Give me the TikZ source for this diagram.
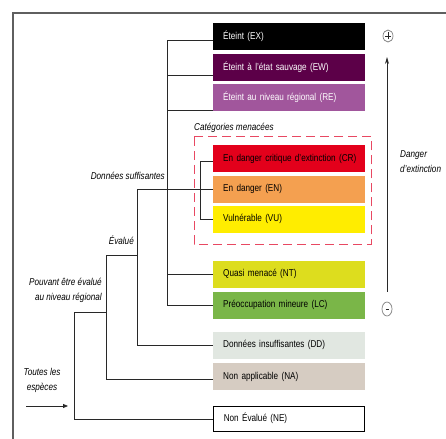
\documentclass[tikz,border=0pt]{standalone}
\usepackage{fontspec}
\setmainfont[FakeStretch=0.82]{Liberation Sans}
\usetikzlibrary{arrows.meta,shapes.geometric}

\definecolor{cEX}{RGB}{0,0,0}
\definecolor{cEW}{RGB}{92,0,72}
\definecolor{cRE}{RGB}{161,86,156}
\definecolor{cCR}{RGB}{227,0,27}
\definecolor{cEN}{RGB}{244,160,80}
\definecolor{cVU}{RGB}{255,237,0}
\definecolor{cNT}{RGB}{221,221,30}
\definecolor{cLC}{RGB}{122,182,72}
\definecolor{cDD}{RGB}{225,231,225}
\definecolor{cNA}{RGB}{214,204,194}
\definecolor{cDash}{RGB}{232,72,98}
\definecolor{cFrame}{RGB}{95,95,95}
\definecolor{cTree}{RGB}{40,40,40}

\begin{document}
\begin{tikzpicture}[x=1bp,y=-1bp,
  catbox/.style={rectangle, anchor=west, minimum width=152bp, minimum height=27bp,
    text width=152bp, inner xsep=0pt, inner ysep=0pt, align=left,
    execute at begin node={\hspace*{10bp}},
    font=\fontsize{10}{12}\selectfont},
  lightbox/.style={catbox, text=white},
  branch/.style={draw=cTree, line width=0.8bp},
  lbl/.style={font=\fontsize{10}{15.5}\selectfont\itshape, inner sep=0pt},
  endmark/.style={draw=gray, ellipse, line width=0.7bp, inner sep=0pt}]

\useasboundingbox (0,0) rectangle (446,439);

% outer frame (left and top edges)
\draw[cFrame, line width=1.2bp] (13,439) -- (13,13) -- (446,13);

% category boxes
\node[lightbox, fill=cEX] (ex) at (213,36.3) {Éteint (EX)};
\node[lightbox, fill=cEW] (ew) at (213,67.3) {Éteint à l'état sauvage (EW)};
\node[lightbox, fill=cRE] (re) at (213,97.5) {Éteint au niveau régional (RE)};
\node[catbox, fill=cCR] (cr) at (213,159) {En danger critique d'extinction (CR)};
\node[catbox, fill=cEN] (en) at (213,189.2) {En danger (EN)};
\node[catbox, fill=cVU] (vu) at (213,219.2) {Vulnérable (VU)};
\node[catbox, fill=cNT] (nt) at (213,274.3) {Quasi menacé (NT)};
\node[catbox, fill=cLC] (lc) at (213,305.3) {Préoccupation mineure (LC)};
\node[catbox, fill=cDD] (dd) at (213,345.3) {Données insuffisantes (DD)};
\node[catbox, fill=cNA] (na) at (213,376.9) {Non applicable (NA)};
\node[catbox, fill=white, draw=black, line width=0.8bp, minimum width=151bp,
      text width=151bp, minimum height=25bp] (ne) at (213.4,418.4) {Non Évalué (NE)};

% threatened categories frame
\node[lbl, anchor=west] (menac) at (194,128) {Catégories menacées};
\draw[cDash, line width=1bp, dash pattern=on 9bp off 5bp] (194.3,137) rectangle (371.7,244);

% tree of decisions
\coordinate (tA) at (167,0);
\coordinate (tB) at (137,0);
\draw[branch] ([yshift=-4bp]ex.west) -| (lc.west -| tA) -- (lc.west);
\draw[branch] ([yshift=-8bp]ew.west) -- +(-46,0);
\draw[branch] ([yshift=-13bp]re.west) -- +(-46,0);
\draw[branch] (nt.west) -- +(-46,0);
\draw[branch] (en.west) -| (dd.west -| tB) -- (dd.west);
\draw[branch] ([yshift=-2bp]cr.west) -- ++(-13,0) |- (vu.west);

\coordinate (evj) at (137,255.3);
\draw[branch] (evj) -- ++(-31,0) |- ([yshift=-2bp]na.west);
\coordinate (pvj) at (106,312.3);
\draw[branch] (pvj) -- ++(-32,0) |- ([yshift=-1bp]ne.west);

% branch labels
\node[lbl, anchor=east] (suff) at (165,175.7) {Données suffisantes};
\node[lbl, anchor=east] (evalue) at (134,240) {Évalué};
\node[lbl, anchor=east, align=right] (pouv) at (102,290.5) {Pouvant être évalué\\au niveau régional};
\node[lbl, align=center] (toutes) at (42,380.5) {Toutes les\\espèces};

% entry arrow
\coordinate (inS) at (26,406);
\coordinate (inE) at (68,406);
\draw[cTree, line width=0.8bp, -{Triangle[length=5bp,width=4bp]}] (inS) -- (inE);

% extinction risk scale
\node[endmark, minimum width=10bp, minimum height=12bp] (plus) at (388,36) {};
\draw[cTree, line width=0.6bp] ([xshift=-3bp]plus.center) -- ([xshift=3bp]plus.center)
      ([yshift=-3.5bp]plus.center) -- ([yshift=3.5bp]plus.center);
\node[endmark, minimum width=10bp, minimum height=14bp] (minus) at (387,309) {};
\draw[cTree, line width=0.7bp] ([xshift=-1.5bp]minus.center) -- ([xshift=1.5bp]minus.center);
\coordinate (scaleBot) at (387,291.7);
\coordinate (scaleTop) at (387,57);
\draw[cTree, line width=0.8bp, -{Stealth[length=7bp,width=4bp]}] (scaleBot) -- (scaleTop);
\node[lbl, anchor=west, align=left] (danger) at (400,161.5) {Danger\\d'extinction};

\end{tikzpicture}
\end{document}
